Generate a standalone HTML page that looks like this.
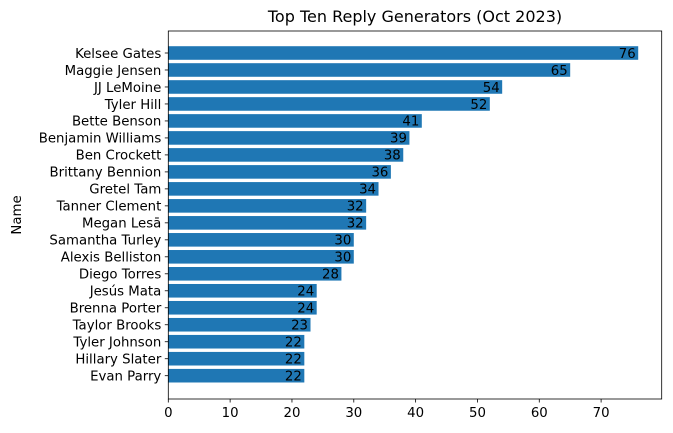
<!DOCTYPE html>
<html><head><meta charset="utf-8"><style>
body{margin:0;background:#fff;}
svg{display:block;font-family:"DejaVu Sans","Liberation Sans",sans-serif;}
</style></head><body>
<svg id="chart" width="673" height="433"></svg>
<script>
const names=["Kelsee Gates","Maggie Jensen","JJ LeMoine","Tyler Hill","Bette Benson","Benjamin Williams","Ben Crockett","Brittany Bennion","Gretel Tam","Tanner Clement","Megan Lesā","Samantha Turley","Alexis Belliston","Diego Torres","Jesús Mata","Brenna Porter","Taylor Brooks","Tyler Johnson","Hillary Slater","Evan Parry"];
const replies=[76,65,54,52,41,39,38,36,34,32,32,30,30,28,24,24,23,22,22,22];
const xTicks=[0,10,20,30,40,50,60,70];
const NS="http://www.w3.org/2000/svg";
const svg=document.getElementById('chart');
const L=168.3,R=661.7,T=31,B=399;
const xmax=Math.max(...replies)*1.05;
const n=names.length;
const step=(375.7-53)/19;
const x=v=>L+v/xmax*(R-L);
const y=i=>53+i*step;
const bw=0.8*step;
function mk(tag,attrs,text){const e=document.createElementNS(NS,tag);for(const k in attrs)e.setAttribute(k,attrs[k]);if(text!==undefined)e.textContent=text;svg.appendChild(e);return e;}
names.forEach((nm,i)=>{
  const r=mk('rect',{x:x(0),y:y(i)-bw/2,width:x(replies[i])-x(0),height:bw,fill:'#1f77b4'});
  
  
  const v=mk('text',{x:x(replies[i])-2.5,y:y(i)+4.8,'text-anchor':'end','font-size':13.3,fill:'#000'},replies[i]);
  
  
  const tk=mk('line',{x1:L-3.5,x2:L,y1:y(i),y2:y(i),stroke:'#000','stroke-width':0.8});
  
  
  const t=mk('text',{x:L-7,y:y(i)+4.8,'text-anchor':'end','font-size':13.3,fill:'#000'},nm);
  
  
});
xTicks.forEach(v=>{
  const tk=mk('line',{x1:x(v),x2:x(v),y1:B,y2:B+3.5,stroke:'#000','stroke-width':0.8});
  
  
  const t=mk('text',{x:x(v),y:B+18,'text-anchor':'middle','font-size':13.3,fill:'#000'},v);
  
  
});
const fr=mk('rect',{x:L,y:T,width:R-L,height:B-T,fill:'none',stroke:'#000','stroke-width':0.8});


const ti=mk('text',{x:(L+R)/2,y:T-9,'text-anchor':'middle','font-size':16,fill:'#000'},'Top Ten Reply Generators (Oct 2023)');


const yl=mk('text',{x:0,y:0,'text-anchor':'middle','font-size':13.3,fill:'#000',transform:'translate(21,'+((T+B)/2)+') rotate(-90)'},'Name');


</script>
</body></html>
